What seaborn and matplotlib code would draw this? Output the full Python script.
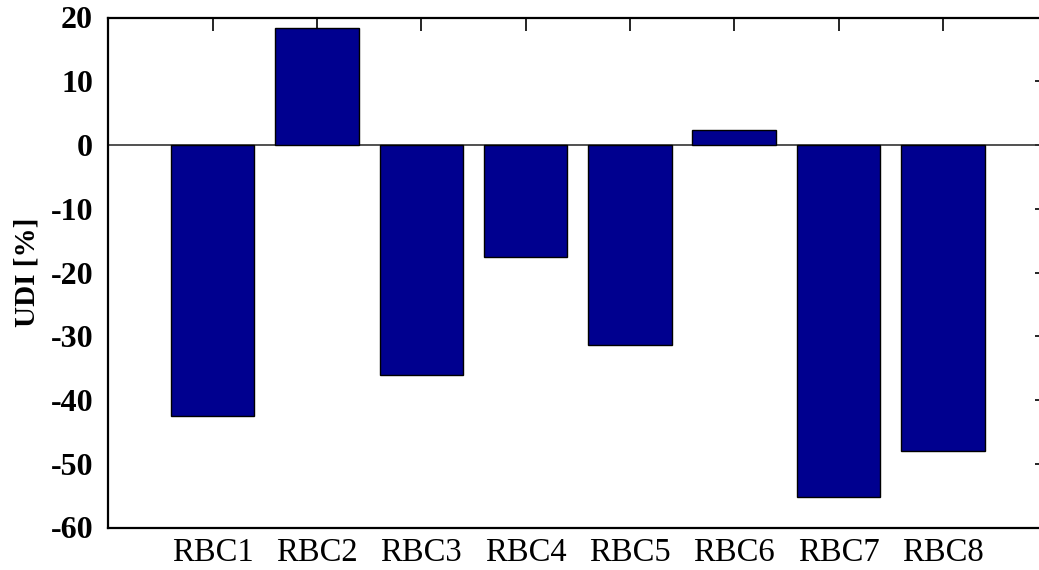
import matplotlib
matplotlib.use("Agg")
import matplotlib.pyplot as plt
import seaborn as sns
import pandas as pd

categories = ["RBC1", "RBC2", "RBC3", "RBC4", "RBC5", "RBC6", "RBC7", "RBC8"]
udi_values = [-42.5, 18.3, -36.0, -17.6, -31.4, 2.3, -55.2, -48.0]
y_ticks = [-60, -50, -40, -30, -20, -10, 0, 10, 20]

sns.set_theme(style="white")
plt.rcParams["font.family"] = ["Liberation Serif", "DejaVu Serif"]
plt.rcParams["text.color"] = "black"
plt.rcParams["axes.labelcolor"] = "black"
plt.rcParams["xtick.color"] = "black"
plt.rcParams["ytick.color"] = "black"

df = pd.DataFrame({"cat": categories, "udi": udi_values})

fig = plt.figure(figsize=(10.39, 5.70), dpi=100)
ax = fig.add_axes([108.4 / 1039, 42.5 / 570, 938.7 / 1039, 510 / 570])

sns.barplot(data=df, x="cat", y="udi", ax=ax, color="#00008F", saturation=1,
            width=0.8, edgecolor="black", linewidth=1.0, zorder=3)
ax.axhline(0, color="#333333", linewidth=1.2, zorder=2)

ax.set_xlim(-1, 8)
ax.set_ylim(-60, 20)
ax.set_yticks(y_ticks)
ax.set_yticklabels([str(t) for t in y_ticks], fontsize=23, fontweight="bold")
ax.set_xticks(range(len(categories)))
ax.set_xticklabels(categories, fontsize=23.5)
ax.set_xlabel("")
ax.set_ylabel("UDI [%]", fontsize=21, fontweight="bold", labelpad=7)

ax.tick_params(axis="both", which="both", direction="in", length=9, width=1.2,
               top=True, right=True, color="black", labelcolor="black")
ax.tick_params(axis="y", pad=11)
ax.tick_params(axis="x", pad=7)
for s in ax.spines.values():
    s.set_visible(True)
    s.set_color("black")
    s.set_linewidth(1.6)

fig.savefig("out.png", dpi=100, facecolor="white")
